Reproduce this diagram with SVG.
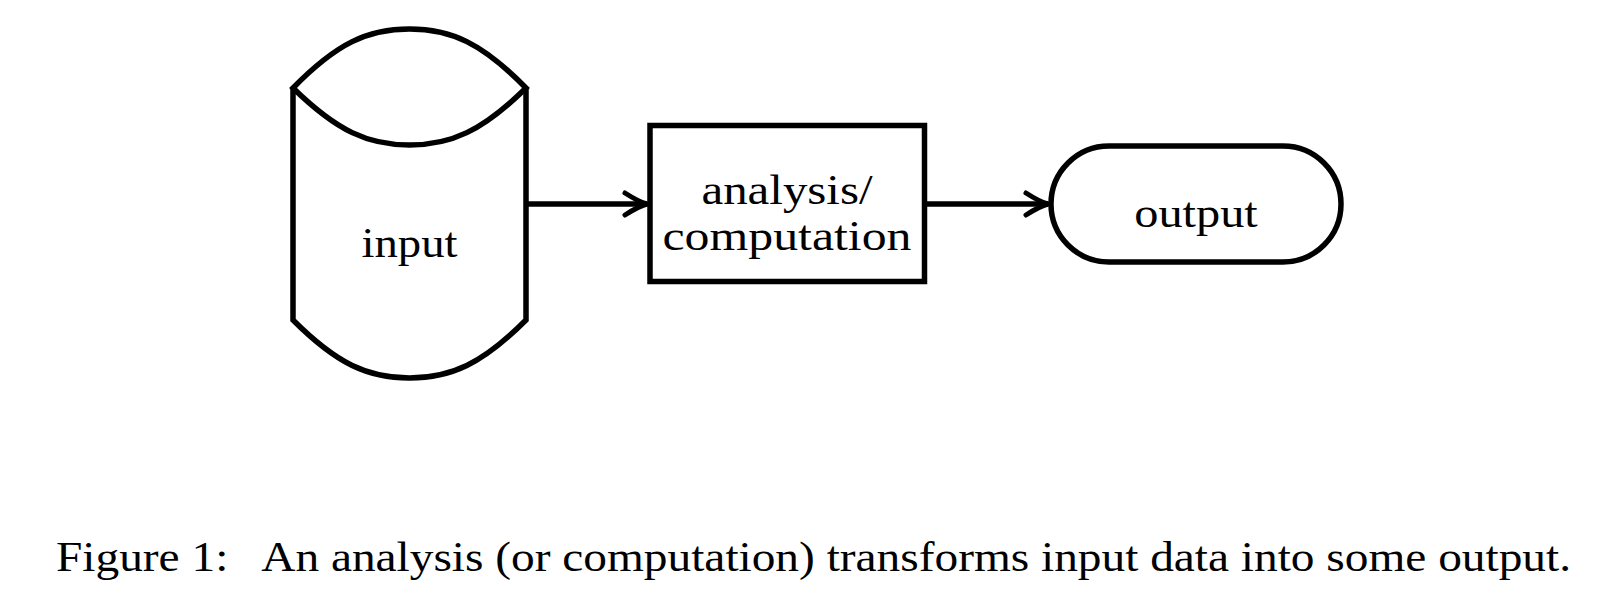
<svg xmlns="http://www.w3.org/2000/svg" width="1600" height="600" viewBox="0 0 1600 600">
<style>
.shape{fill:none;stroke:#000;stroke-width:5.5;stroke-linejoin:miter}
.conn{fill:none;stroke:#000;stroke-width:5.5}
.lbl{font-family:"Liberation Serif","DejaVu Serif",serif;font-size:43px;fill:#000;text-anchor:middle}
.cap{font-family:"Liberation Serif","DejaVu Serif",serif;font-size:43px;fill:#000}
</style>
<defs>
<marker id="arr" markerUnits="userSpaceOnUse" markerWidth="30" markerHeight="30" viewBox="-26 -15 30 30" refX="0" refY="0" orient="auto">
<path d="M-22,-11 Q-8,-2 0,0 Q-8,2 -22,11" fill="none" stroke="#000" stroke-width="5" stroke-linecap="round" stroke-linejoin="round"/>
</marker>
</defs>
<rect width="1600" height="600" fill="#fff"/>
<g id="input">
<path class="shape" d="M293,88 C337,43 368,29 409.5,29 C451,29 482,43 526,88 C482,131 451,145 409.5,145 C368,145 337,131 293,88 Z"/>
<path class="shape" d="M293,88 L293,320 C337,364 368,378 409.5,378 C451,378 482,364 526,320 L526,88"/>
<text class="lbl" x="409.5" y="257" textLength="96" lengthAdjust="spacingAndGlyphs">input</text>
</g>
<g id="analysis">
<rect class="shape" x="650" y="125.5" width="274.5" height="156"/>
<text class="lbl" x="787" y="204" textLength="171" lengthAdjust="spacingAndGlyphs">analysis/</text>
<text class="lbl" x="787" y="250" textLength="249" lengthAdjust="spacingAndGlyphs">computation</text>
</g>
<g id="output">
<rect class="shape" x="1051" y="146" width="290" height="116" rx="58" ry="58"/>
<text class="lbl" x="1196" y="227" textLength="123.5" lengthAdjust="spacingAndGlyphs">output</text>
</g>
<g id="connectors">
<line class="conn" x1="526" y1="204" x2="647" y2="204" marker-end="url(#arr)"/>
<line class="conn" x1="924.5" y1="204" x2="1048" y2="204" marker-end="url(#arr)"/>
</g>
<text class="cap" x="56" y="571" xml:space="preserve" textLength="1515" lengthAdjust="spacingAndGlyphs">Figure 1:   An analysis (or computation) transforms input data into some output.</text>
</svg>
